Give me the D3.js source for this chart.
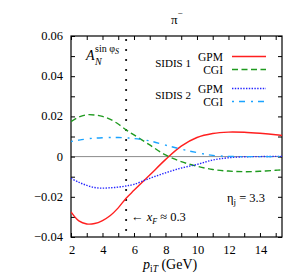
<!DOCTYPE html>
<html>
<head>
<meta charset="utf-8">
<script src="https://cdn.jsdelivr.net/npm/d3@7"></script>
<style>
  body { margin: 0; background: #fff; }
</style>
</head>
<body>
<div id="chart"></div>
<script>
// --- Data ---
const pT = [2, 2.5, 3, 3.5, 4, 4.5, 5, 5.5, 6, 7, 8, 9, 10, 11, 12, 13, 14, 15, 15.4];
const gpm1 = [-0.0275, -0.0320, -0.0335, -0.0333, -0.0318, -0.0293, -0.0255, -0.0207, -0.0168, -0.0092, -0.0015, 0.0052, 0.0095, 0.0115, 0.0122, 0.0121, 0.0116, 0.0109, 0.0105];
const cgi1 = [0.0174, 0.0197, 0.0208, 0.0207, 0.0200, 0.0185, 0.0162, 0.0133, 0.0108, 0.0058, 0.0008, -0.0025, -0.0048, -0.0064, -0.0072, -0.0075, -0.0073, -0.0068, -0.0066];
const gpm2 = [-0.0108, -0.0128, -0.0143, -0.0154, -0.0157, -0.0155, -0.0152, -0.0146, -0.0138, -0.0108, -0.0081, -0.0057, -0.0039, -0.0017, -0.0006, -0.0001, 0.0000, 0.0001, 0.0001];
const cgi2 = [0.0075, 0.0082, 0.0088, 0.0092, 0.0094, 0.0095, 0.0095, 0.0093, 0.0090, 0.0078, 0.0057, 0.0037, 0.0020, 0.0006, 0.0001, 0.0000, 0.0000, 0.0000, 0.0000];
const xTicks = [2, 4, 6, 8, 10, 12, 14];
const yTicks = [-0.04, -0.02, 0, 0.02, 0.04, 0.06];
const xF = 5.5;

// --- Layout ---
const width = 300, height = 278;
const plot = { left: 71, right: 282, top: 36, bottom: 237 };

const svg = d3.select("#chart").append("svg")
    .attr("width", width).attr("height", height)
    .attr("font-family", "'Liberation Serif', 'Times New Roman', Times, serif");

const x = d3.scaleLinear().domain([2, 15.4]).range([plot.left, plot.right]);
const y = d3.scaleLinear().domain([-0.04, 0.06]).range([plot.bottom, plot.top]);

// zero line
svg.append("line")
    .attr("x1", plot.left).attr("x2", plot.right)
    .attr("y1", y(0)).attr("y2", y(0))
    .attr("stroke", "#8c8c8c").attr("stroke-width", 1);

// --- Axes (ticks inward on all four sides) ---
const xMinor = d3.range(2, 16, 1);
const yMinor = d3.range(-0.04, 0.0601, 0.01);
const tickLen = 4;

svg.append("g").attr("transform", `translate(0,${plot.bottom})`)
    .call(d3.axisBottom(x).tickValues(xMinor).tickSize(-tickLen).tickFormat(""))
    .call(g => g.select(".domain").remove());
svg.append("g").attr("transform", `translate(0,${plot.top})`)
    .call(d3.axisTop(x).tickValues(xMinor).tickSize(-tickLen).tickFormat(""))
    .call(g => g.select(".domain").remove());
svg.append("g").attr("transform", `translate(${plot.left},0)`)
    .call(d3.axisLeft(y).tickValues(yMinor).tickSize(-tickLen).tickFormat(""))
    .call(g => g.select(".domain").remove());
svg.append("g").attr("transform", `translate(${plot.right},0)`)
    .call(d3.axisRight(y).tickValues(yMinor).tickSize(-tickLen).tickFormat(""))
    .call(g => g.select(".domain").remove());
svg.selectAll(".tick line").attr("stroke", "#000").attr("stroke-width", 1);

// tick labels
svg.append("g").selectAll("text").data(xTicks).join("text")
    .attr("x", d => x(d) + 1).attr("y", 254)
    .attr("text-anchor", "middle").attr("font-size", 12.5)
    .text(d => d);
svg.append("g").selectAll("text").data(yTicks).join("text")
    .attr("x", 63).attr("y", d => y(d) + 4)
    .attr("text-anchor", "end").attr("font-size", 12.5)
    .text(d => d === 0 ? "0" : d3.format(".2f")(d));

// frame
svg.append("rect")
    .attr("x", plot.left).attr("y", plot.top)
    .attr("width", plot.right - plot.left).attr("height", plot.bottom - plot.top)
    .attr("fill", "none").attr("stroke", "#000").attr("stroke-width", 1.2);

// x_F line
svg.append("line")
    .attr("x1", x(xF)).attr("x2", x(xF))
    .attr("y1", plot.top + 4).attr("y2", plot.bottom)
    .attr("stroke", "#000").attr("stroke-width", 2.2)
    .attr("stroke-linecap", "round").attr("stroke-dasharray", "0,10");

// --- Curves ---
const series = [
  { values: gpm1, color: "#ff1f1f", dash: null, width: 1.4 },
  { values: cgi1, color: "#1f9a1f", dash: "6,3.5", width: 1.4 },
  { values: gpm2, color: "#2424ff", dash: "1.4,1.4", width: 1.4 },
  { values: cgi2, color: "#1aa3ff", dash: "2,5,6,6", width: 1.4 }
];

const line = d3.line()
    .x((d, i) => x(pT[i]))
    .y(d => y(d))
    .curve(d3.curveCatmullRom.alpha(0.5));

svg.append("defs").append("clipPath").attr("id", "clip")
  .append("rect").attr("x", plot.left).attr("y", plot.top)
  .attr("width", plot.right - plot.left).attr("height", plot.bottom - plot.top);

svg.append("g").attr("clip-path", "url(#clip)")
  .selectAll("path").data(series).join("path")
    .attr("d", d => line(d.values))
    .attr("fill", "none")
    .attr("stroke", d => d.color)
    .attr("stroke-width", d => d.width)
    .attr("stroke-dasharray", d => d.dash);

// --- Legend ---
const legendRows = [
  { label: "GPM", y: 56.5, s: series[0] },
  { label: "CGI", y: 69.5, s: series[1] },
  { label: "GPM", y: 88.5, s: series[2] },
  { label: "CGI", y: 101.5, s: series[3] }
];
const lg = svg.append("g");
lg.selectAll("line").data(legendRows).join("line")
    .attr("x1", 232).attr("x2", 266)
    .attr("y1", d => d.y).attr("y2", d => d.y)
    .attr("stroke", d => d.s.color).attr("stroke-width", d => d.s.width)
    .attr("stroke-dasharray", d => d.s.dash);
lg.selectAll("text").data(legendRows).join("text")
    .attr("x", 223).attr("y", d => d.y + 4)
    .attr("text-anchor", "end").attr("font-size", 11.5)
    .text(d => d.label);
lg.append("text").attr("x", 191).attr("y", 67).attr("text-anchor", "end")
    .attr("font-size", 11).text("SIDIS 1");
lg.append("text").attr("x", 191).attr("y", 99).attr("text-anchor", "end")
    .attr("font-size", 11).text("SIDIS 2");

// --- Annotations ---
const title = svg.append("text").attr("x", 171).attr("y", 24).attr("font-size", 13);
title.append("tspan").text("π");
title.append("tspan").attr("dy", -8).attr("font-size", 9).text("−");

const an = svg.append("text").attr("x", 86).attr("y", 60).attr("font-size", 14);
an.append("tspan").attr("font-style", "italic").text("A");
an.append("tspan").attr("x", 95).attr("dy", 5).attr("font-size", 10).attr("font-style", "italic").text("N");
an.append("tspan").attr("x", 95).attr("dy", -13).attr("font-size", 10).text("sin φ");
an.append("tspan").attr("dy", 2).attr("font-size", 8).attr("font-style", "italic").text("S");

const eta = svg.append("text").attr("x", 227).attr("y", 202).attr("font-size", 12.5);
eta.append("tspan").text("η");
eta.append("tspan").attr("dy", 3).attr("font-size", 9).text("j");
eta.append("tspan").attr("dy", -3).text(" = 3.3");

const xf = svg.append("text").attr("x", 131).attr("y", 221).attr("font-size", 12.5);
xf.append("tspan").text("← ");
xf.append("tspan").attr("font-style", "italic").text("x");
xf.append("tspan").attr("dy", 3).attr("font-size", 8).attr("font-style", "italic").text("F");
xf.append("tspan").attr("dy", -3).text(" ≈ 0.3");

const xl = svg.append("text").attr("x", 143).attr("y", 269).attr("font-size", 14);
xl.append("tspan").attr("font-style", "italic").text("p");
xl.append("tspan").attr("dy", 3).attr("font-size", 9.5).text("i");
xl.append("tspan").attr("font-size", 9.5).attr("font-style", "italic").text("T");
xl.append("tspan").attr("dy", -3).text("  (GeV)");
</script>
</body>
</html>
